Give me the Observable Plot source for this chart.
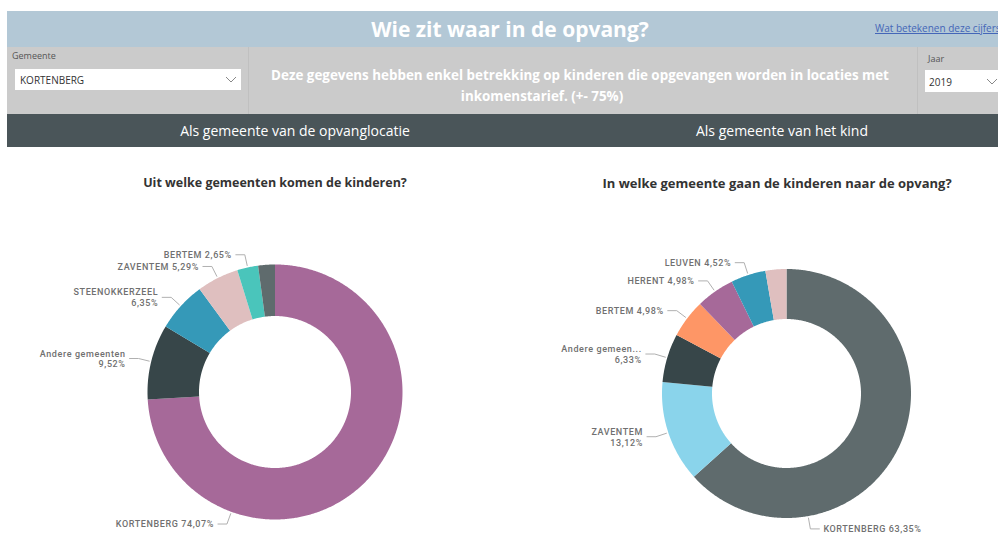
<!DOCTYPE html>
<html><head><meta charset="utf-8">
<script src="https://cdn.jsdelivr.net/npm/d3@7"></script>
<script src="https://cdn.jsdelivr.net/npm/@observablehq/plot@0.6"></script>
<style>
html,body{margin:0;padding:0;background:#fff}
body{width:998px;height:534px;overflow:hidden;position:relative;font-family:"Open Sans",sans-serif}
.abs{position:absolute;white-space:nowrap}
.chev{position:absolute}
</style></head><body>
<!-- header band -->
<div class="abs" style="left:7px;top:11px;width:991px;height:36px;background:#b3c8d6"></div>
<div class="abs" id="mainTitle" style="left:0;top:11px;width:1020px;height:36px;line-height:36px;text-align:center;color:#fff;font-weight:700;font-size:21px">Wie zit waar in de opvang?</div>
<div class="abs" style="left:875px;top:21px;font-size:10px;color:#4466b8;text-decoration:underline">Wat betekenen deze cijfers</div>
<!-- filter band -->
<div class="abs" style="left:7px;top:47px;width:991px;height:67px;background:#cbcbcb"></div>
<div class="abs" style="left:248px;top:47px;width:1px;height:67px;background:#c0c0c0"></div>
<div class="abs" style="left:917px;top:47px;width:1px;height:67px;background:#c0c0c0"></div>
<div class="abs" style="left:12px;top:49px;font-size:9px;color:#555">Gemeente</div>
<div class="abs" style="left:15px;top:69px;width:226px;height:21px;background:#fff"></div>
<div class="abs" style="left:20px;top:73px;font-size:10px;color:#333">KORTENBERG</div>
<svg class="chev" style="left:225px;top:76px" width="12" height="8"><polyline points="1,1 6,6 11,1" fill="none" stroke="#888" stroke-width="1"/></svg>
<div class="abs" style="left:249px;top:65px;width:662px;text-align:center;color:#fff;font-weight:700;font-size:13.4px;line-height:20px">Deze gegevens hebben enkel betrekking op kinderen die opgevangen worden in locaties met</div>
<div class="abs" style="left:249px;top:86px;width:586px;text-align:center;color:#fff;font-weight:700;font-size:13.4px;line-height:20px">inkomenstarief. (+- 75%)</div>
<div class="abs" style="left:928px;top:52px;font-size:9px;color:#555">Jaar</div>
<div class="abs" style="left:925px;top:70px;width:80px;height:22px;background:#fff"></div>
<div class="abs" style="left:929px;top:75px;font-size:10px;color:#333">2019</div>
<svg class="chev" style="left:986px;top:78px" width="12" height="8"><polyline points="1,1 6,6 11,1" fill="none" stroke="#888" stroke-width="1"/></svg>
<!-- tab band -->
<div class="abs" style="left:7px;top:114px;width:991px;height:33px;background:#4a5559"></div>
<div class="abs" style="left:95px;top:114px;width:400px;height:33px;line-height:33px;text-align:center;color:#fff;font-size:14px">Als gemeente van de opvanglocatie</div>
<div class="abs" style="left:582px;top:114px;width:400px;height:33px;line-height:33px;text-align:center;color:#fff;font-size:14px">Als gemeente van het kind</div>
<!-- chart titles -->
<div class="abs" style="left:75px;top:174px;width:400px;text-align:center;color:#333;font-weight:700;font-size:12.5px">Uit welke gemeenten komen de kinderen?</div>
<div class="abs" style="left:577px;top:174px;width:400px;text-align:center;color:#333;font-weight:700;font-size:13px">In welke gemeente gaan de kinderen naar de opvang?</div>
<div class="abs" id="leftChart" style="left:0;top:200px"></div>
<div class="abs" id="rightChart" style="left:499px;top:200px"></div>
<script>
// ---------- data ----------
const leftCategories = ["KORTENBERG", "Andere gemeenten", "STEENOKKERZEEL", "ZAVENTEM", "BERTEM", "(niet gelabeld)"];
const leftValues = [74.07, 9.52, 6.35, 5.29, 2.65, 2.12];
const leftLabelNames = ["KORTENBERG", "Andere gemeenten", "STEENOKKERZEEL", "ZAVENTEM", "BERTEM", null];
const leftLabelWrap = [false, true, true, false, false, false];

const rightCategories = ["KORTENBERG", "ZAVENTEM", "Andere gemeenten", "BERTEM", "HERENT", "LEUVEN", "(niet gelabeld)"];
const rightValues = [63.35, 13.12, 6.33, 4.98, 4.98, 4.52, 2.72];
const rightLabelNames = ["KORTENBERG", "ZAVENTEM", "Andere gemeen...", "BERTEM", "HERENT", "LEUVEN", null];
const rightLabelWrap = [false, true, true, false, false, false, false];

// ---------- styles ----------
const leftColors = ["#a66999", "#374649", "#3599b8", "#dfbfbf", "#4ac5bb", "#5f6b6d"];
const rightColors = ["#5f6b6d", "#8ad4eb", "#374649", "#fe9666", "#a66999", "#3599b8", "#dfbfbf"];

function fmtPct(v) { return v.toFixed(2).replace(".", ",") + "%"; }

function donut(cats, vals, colors, labelNames, wrap, opt) {
  const {W, H, cx, cy, R, r, mainAngle} = opt;
  const total = d3.sum(vals);
  let acc = 0;
  const slices = cats.map((c, i) => {
    const a0 = acc / total * 2 * Math.PI; acc += vals[i];
    const a1 = acc / total * 2 * Math.PI;
    return {name: c, value: vals[i], a0, a1, i};
  });
  const poly = [];
  for (const s of slices) {
    const n = Math.max(2, Math.ceil((s.a1 - s.a0) / (Math.PI / 360)));
    for (let k = 0; k <= n; k++) { const a = s.a0 + (s.a1 - s.a0) * k / n; poly.push({name: s.name, x: R * Math.sin(a), y: -R * Math.cos(a)}); }
    for (let k = n; k >= 0; k--) { const a = s.a0 + (s.a1 - s.a0) * k / n; poly.push({name: s.name, x: r * Math.sin(a), y: -r * Math.cos(a)}); }
  }
  const leaders = [], texts = [];
  slices.forEach((s, i) => {
    if (!labelNames[i]) return;
    const a = s.value / total > 0.5 ? mainAngle * Math.PI / 180 : (s.a0 + s.a1) / 2;
    const sx = Math.sin(a), sy = -Math.cos(a);
    const side = sx < 0 ? -1 : 1;
    const p0 = {x: (R + 2) * sx, y: (R + 2) * sy};
    const p1 = {x: (R + 13) * sx, y: (R + 13) * sy};
    const p2 = {x: p1.x + side * 9, y: p1.y};
    [p0, p1, p2].forEach(p => leaders.push({name: s.name, ...p}));
    const pct = fmtPct(s.value);
    texts.push({x: p2.x, y: p2.y, side,
      text: wrap[i] ? labelNames[i] + "\n" + pct : labelNames[i] + " " + pct});
  });
  return Plot.plot({
    width: W, height: H, margin: 0,
    x: {domain: [-cx, W - cx], range: [0, W], axis: null},
    y: {domain: [-cy, H - cy], range: [0, H], axis: null},
    color: {domain: cats, range: colors},
    style: {background: "transparent", fontFamily: "Roboto, sans-serif", letterSpacing: "0.6px", overflow: "visible"},
    marks: [
      Plot.line(poly, {x: "x", y: "y", z: "name", fill: "name", stroke: "none", curve: "linear"}),
      Plot.line(leaders, {x: "x", y: "y", z: "name", stroke: "#b0b0b0", strokeWidth: 1}),
      Plot.text(texts.filter(d => d.side < 0), {x: "x", y: "y", text: "text", textAnchor: "end", dx: -4, fill: "#707070", fontSize: 9, fontWeight: 500, lineHeight: 1.2}),
      Plot.text(texts.filter(d => d.side > 0), {x: "x", y: "y", text: "text", textAnchor: "start", dx: 4, fill: "#707070", fontSize: 9, fontWeight: 500, lineHeight: 1.2})
    ]
  });
}

document.getElementById("leftChart").appendChild(
  donut(leftCategories, leftValues, leftColors, leftLabelNames, leftLabelWrap,
    {W: 499, H: 334, cx: 274.5, cy: 191.5, R: 127.5, r: 76, mainAngle: 200}));
document.getElementById("rightChart").appendChild(
  donut(rightCategories, rightValues, rightColors, rightLabelNames, rightLabelWrap,
    {W: 499, H: 334, cx: 287, cy: 193, R: 124.5, r: 74.5, mainAngle: 170}));
</script>
</body></html>
